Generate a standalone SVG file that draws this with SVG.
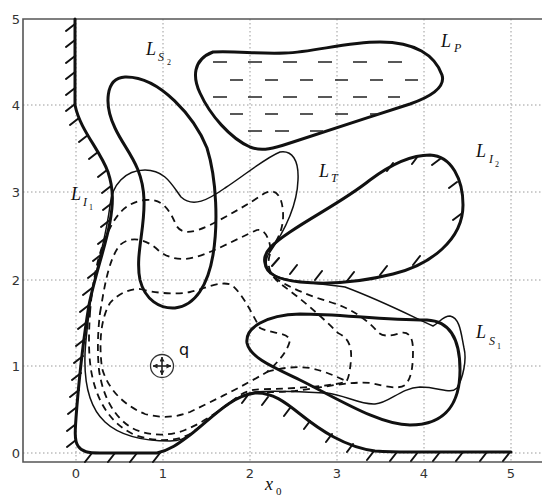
<svg xmlns="http://www.w3.org/2000/svg" width="542" height="498" viewBox="0 0 542 498">
<defs>
<style>
.grid{stroke:#9a9a9a;stroke-width:1;stroke-dasharray:1.5,2.5;fill:none}
.frame{stroke:#555;stroke-width:1.6;fill:none}
.tl{font-family:"DejaVu Sans","Liberation Sans",sans-serif;font-size:13px;fill:#333}
.thick{stroke:#111;stroke-width:3;fill:none;stroke-linejoin:round;stroke-linecap:round}
.thin{stroke:#111;stroke-width:1.5;fill:none;stroke-linejoin:round}
.dash{stroke:#111;stroke-width:1.8;fill:none;stroke-dasharray:7,5}
.hatch{stroke:#111;stroke-width:2;fill:none;stroke-linecap:round}
.pdash{stroke:#222;stroke-width:1.4;fill:none}
.m{font-family:"Liberation Serif","DejaVu Serif",serif;font-style:italic;font-size:18px;fill:#111}
.s{font-family:"Liberation Serif","DejaVu Serif",serif;font-style:italic;font-size:12px;fill:#111}
.ss{font-family:"Liberation Serif","DejaVu Serif",serif;font-size:8px;fill:#111}
</style>
<marker id="ah" viewBox="0 0 6 6" refX="5.5" refY="3" markerUnits="userSpaceOnUse" markerWidth="5" markerHeight="5" orient="auto-start-reverse">
<path d="M0,0 L6,3 L0,6 Z" fill="#222"/>
</marker>
</defs>
<rect width="542" height="498" fill="#fff"/>
<g id="grid">
<path class="grid" d="M76,19V462M163,19V462M250,19V462M337,19V462M424,19V462M511,19V462M23,105H542M23,192H542M23,280H542M23,366H542M23,453H542"/>
</g>
<g id="axes">
<path class="frame" d="M542,19H23V462H542"/>
<text class="tl" x="20" y="24" text-anchor="end">5</text>
<text class="tl" x="20" y="110" text-anchor="end">4</text>
<text class="tl" x="20" y="197" text-anchor="end">3</text>
<text class="tl" x="20" y="285" text-anchor="end">2</text>
<text class="tl" x="20" y="371" text-anchor="end">1</text>
<text class="tl" x="20" y="458" text-anchor="end">0</text>
<text class="tl" x="76" y="478" text-anchor="middle">0</text>
<text class="tl" x="163" y="478" text-anchor="middle">1</text>
<text class="tl" x="250" y="478" text-anchor="middle">2</text>
<text class="tl" x="337" y="478" text-anchor="middle">3</text>
<text class="tl" x="424" y="478" text-anchor="middle">4</text>
<text class="tl" x="511" y="478" text-anchor="middle">5</text>
<text class="m" x="265" y="490">x</text><text class="s" x="276" y="495" style="font-style:normal;font-size:11px">0</text>
</g>
<g id="connectors">
<path class="dash" d="M90,313 C92,285 98,250 110,228 C118,212 128,202 145,200 C162,198 170,210 176,225 C182,236 195,232 210,225 C230,215 250,203 265,193 C275,188 282,195 283,212 C284,228 278,240 270,250 C264,258 264,270 275,278 C290,288 310,296 330,302 C350,308 365,318 376,330 C382,338 392,336 400,333 C408,331 413,336 413,350 C413,365 412,378 405,385 C398,390 385,386 370,383 C350,381 320,388 295,391 C275,393 262,391 252,393 C230,398 210,420 190,434 C175,442 155,442 135,435 C110,424 96,400 91,370 C88,350 89,330 90,313 Z"/>
<path class="dash" d="M100,313 C104,290 108,260 120,245 C130,236 145,238 158,250 C170,260 185,262 205,254 C225,246 245,235 257,230 C265,228 270,240 271,252 C266,262 268,275 282,285 C300,298 320,315 338,333 C348,338 352,345 351,360 C350,370 349,378 346,382 C330,386 300,388 275,389 C258,389 250,389 240,395 C220,410 205,422 185,430 C170,436 150,437 132,428 C115,418 103,398 99,370 C97,350 98,330 100,313 Z"/>
<path class="dash" d="M140,289 C155,293 175,295 190,292 C205,289 220,280 232,285 C243,295 250,310 260,328 C272,334 287,332 290,340 C288,352 275,365 267,372 C245,385 215,400 190,412 C175,418 160,418 145,414 C125,406 108,390 102,368 C99,345 100,320 110,303 C118,294 128,289 140,289 Z"/>
<path class="dash" d="M267,372 C280,368 295,366 310,368 C325,371 337,377 346,381"/>
<path class="thin" d="M85,355 C84,385 90,408 105,422 C120,436 145,441 170,441 C180,441 185,438 190,435 C210,420 230,396 255,392 C275,390 300,392 327,393 C345,395 360,405 375,404 C390,403 400,388 420,387 C440,387 450,395 457,388 C463,378 467,360 464,348 C461,333 460,318 450,316 C443,316 440,322 433,326 C415,318 385,302 345,287 C320,283 290,282 278,277 C266,272 264,262 268,255 C280,238 297,210 298,180 C299,160 292,150 280,152 C265,158 245,175 225,188 C208,200 193,208 181,197 C172,185 165,170 145,170 C125,170 112,185 110,205 C106,240 95,270 90,305 C87,330 85,345 85,355 Z"/>
</g>
<g id="L_I1">
<path class="thick" d="M75,19 L75,105 C80,130 100,150 108,172 C114,190 113,205 110,222 C106,245 95,275 89,305 C84,335 80,370 77,405 C75,430 74,440 78,446 C82,452 88,453 100,453 L157,453 C170,450 178,444 190,435 C210,420 230,396 255,393 C272,392 285,402 300,414 C320,430 345,447 375,451 C390,452 400,452 410,452 L511,452"/>
<path class="hatch" d="M75,24l-9,7M75,40l-9,7M75,56l-9,7M75,72l-9,7M75,88l-9,7M75,104l-9,7M79,118l-9,7M88,135l-9,7M98,152l-9,7M107,170l-9,7M111,186l-9,7M112,203l-9,7M110,220l-9,7M107,237l-9,7M102,254l-9,7M97,271l-9,7M92,288l-9,7M89,305l-9,7M87,322l-9,7M85,339l-9,7M83,356l-9,7M81,373l-9,7M79,390l-9,7M77,407l-9,7M76,424l-9,7M76,440l-9,7M92,453l-7,9M115,453l-7,9M137,453l-7,9M160,453l-7,9M248,395l-6,8M268,397l-6,8M290,408l-6,8M310,421l-6,8M332,434l-6,8M353,444l-6,8M374,451l-7,9M397,452l-7,9M418,452l-7,9M440,452l-7,9M463,452l-7,9M487,452l-7,9M510,452l-7,9"/>
<text class="m" x="71" y="200">L</text><text class="s" x="83" y="206">I</text><text class="ss" x="89" y="210">1</text>
</g>
<g id="L_S2">
<path class="thick" d="M125,77 C105,78 104,105 115,128 C125,150 143,165 144,200 C145,230 135,255 140,280 C145,300 160,309 175,308 C195,306 208,285 213,255 C218,225 217,180 207,148 C195,118 160,76 125,77 Z"/>
<text class="m" x="146" y="55">L</text><text class="s" x="158" y="61">S</text><text class="ss" x="167" y="65">2</text>
</g>
<g id="L_P">
<path class="thick" d="M213,52 C240,51 255,54 285,53 C315,52 345,42 380,42 C415,42 435,55 442,75 C446,88 430,97 410,104 C370,117 320,133 290,143 C275,148 262,152 250,147 C230,138 210,115 200,93 C193,78 192,60 213,52 Z"/>
<path class="pdash" d="M213,62h14M248,62h14M283,62h14M318,62h14M353,62h14M388,62h14M230,80h13M265,80h13M300,80h13M335,80h13M370,80h13M405,80h13M213,97h14M248,97h14M283,97h14M318,97h14M353,97h14M388,97h12M230,114h13M265,114h13M300,114h13M335,114h13M370,114h10M248,131h14M275,131h14M310,131h13"/>
<text class="m" x="441" y="47">L</text><text class="s" x="454" y="52">P</text>
</g>
<g id="L_I2">
<path class="thick" d="M265,263 C262,252 275,242 290,232 C315,215 345,200 370,180 C390,165 410,155 430,155 C452,156 463,180 463,205 C463,240 430,265 393,274 C365,281 330,285 300,282 C280,280 266,275 265,263 Z"/>
<path class="hatch" d="M393,163l-6,8M418,156l-6,8M440,159l-8,6M457,182l-8,6M461,214l-8,6M413,265l7,-9M380,275l7,-9M347,281l7,-9M315,280l7,-9M290,274l7,-9M272,266l7,-8"/>
<text class="m" x="476" y="157">L</text><text class="s" x="489" y="163">I</text><text class="ss" x="495" y="167">2</text>
</g>
<g id="L_T">
<text class="m" x="319" y="177">L</text><text class="s" x="331" y="182">T</text>
</g>
<g id="L_S1">
<path class="thick" d="M247,343 C245,328 265,315 300,314 C340,314 380,320 427,320 C450,321 460,340 460,370 C460,400 448,425 410,425 C380,425 340,400 300,380 C275,368 250,358 247,343 Z"/>
<text class="m" x="476" y="338">L</text><text class="s" x="489" y="345">S</text><text class="ss" x="497" y="349">1</text>
</g>
<g id="q">
<circle cx="162" cy="366" r="11.5" fill="#fff" stroke="#333" stroke-width="1.3"/>
<line x1="153" y1="366" x2="171" y2="366" stroke="#222" stroke-width="1.6" marker-start="url(#ah)" marker-end="url(#ah)"/>
<line x1="162" y1="357" x2="162" y2="375" stroke="#222" stroke-width="1.6" marker-start="url(#ah)" marker-end="url(#ah)"/>
<text x="179" y="355" style="font-family:'DejaVu Sans','Liberation Sans',sans-serif;font-size:16px;fill:#111">q</text>
</g>
</svg>
